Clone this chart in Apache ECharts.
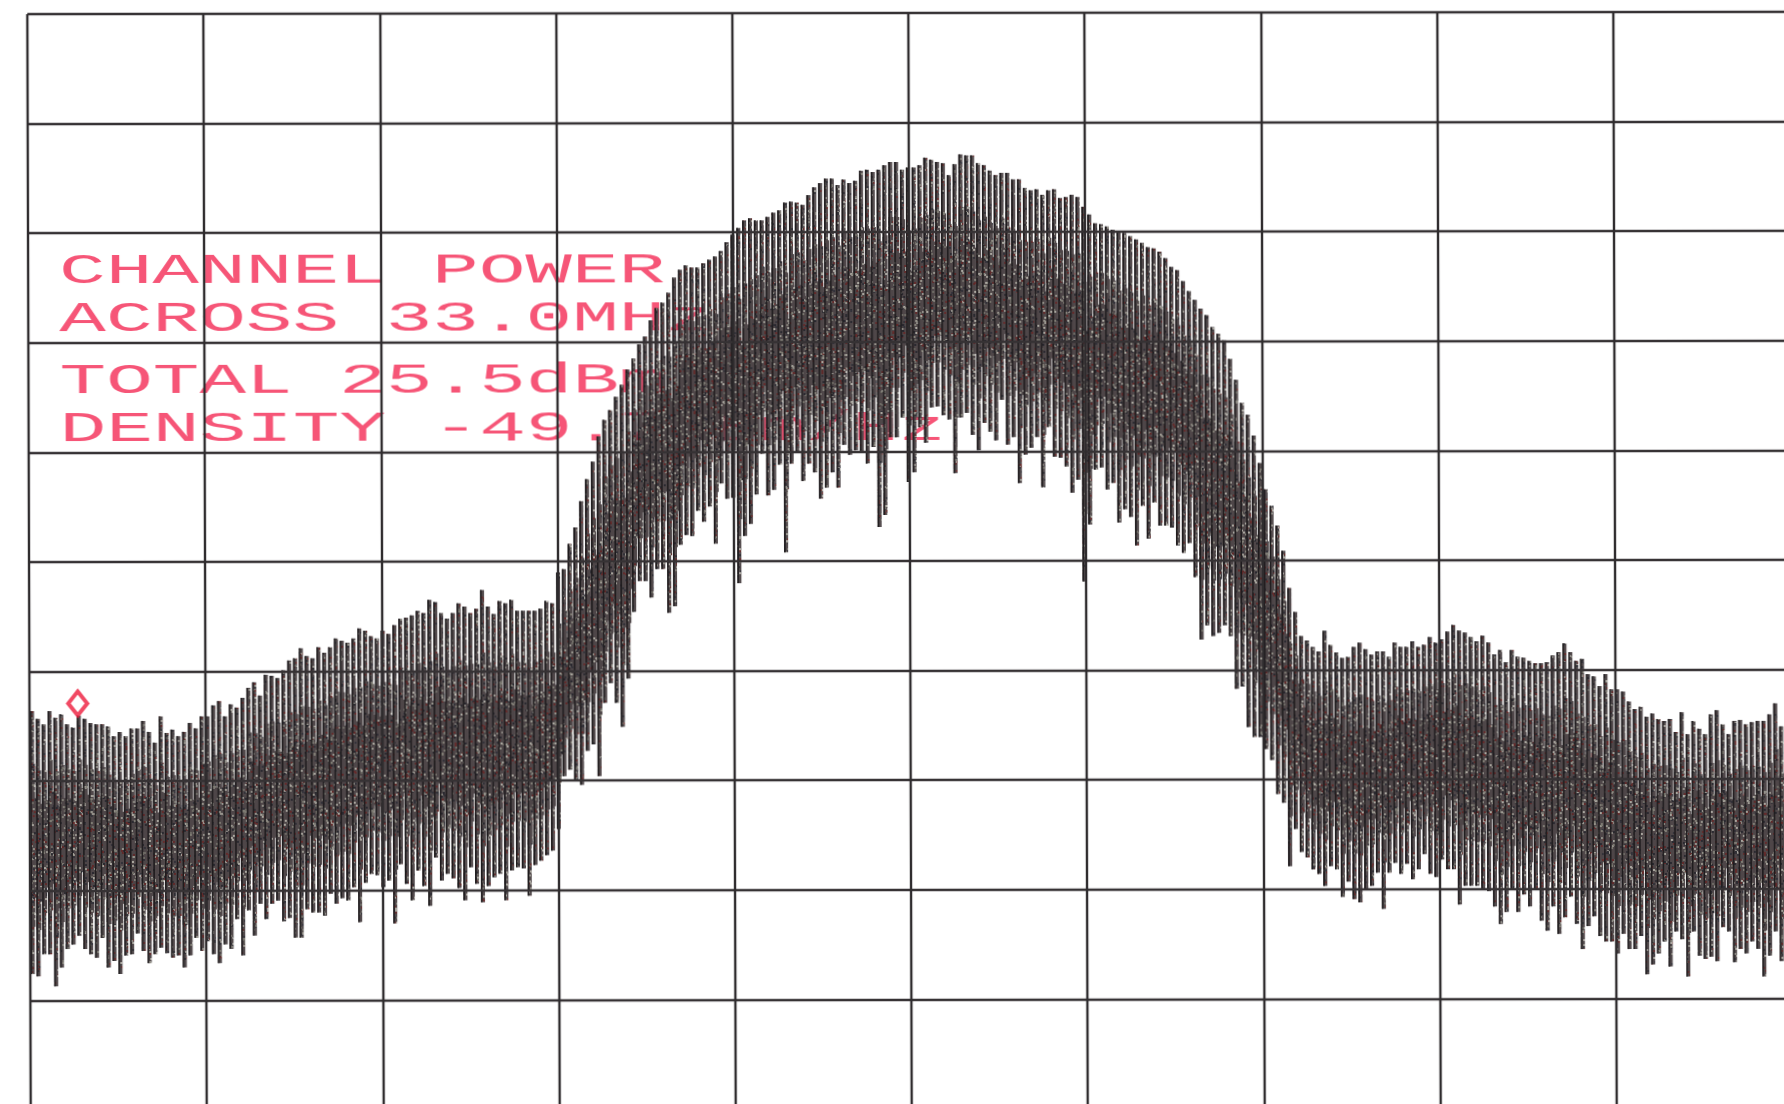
<!DOCTYPE html>
<html>
<head>
<meta charset="utf-8">
<title>Channel power spectrum</title>
<script src="https://cdn.jsdelivr.net/npm/echarts@6/dist/echarts.min.js"></script>
<style>
html,body{margin:0;padding:0;background:#fff;width:1784px;height:1104px;overflow:hidden}
#chart{position:absolute;left:-10px;top:-10px;width:1804px;height:1124px;
  transform:matrix(1,-0.0013,0.0031,1,0,0);filter:blur(0.7px)}
</style>
</head>
<body>
<div id="chart"></div>
<script>
// Level at the top of each spectrum spike, dB below the top graticule line
const spikeTop = [
63.6,64.3,64.8,63.6,64.2,63.9,64.8,65.1,64.0,64.3,64.7,64.8,64.8,65.0,65.9,65.5,65.9,65.2,65.2,64.5,
65.5,66.5,64.1,65.6,65.3,65.9,65.5,64.7,65.2,64.1,64.1,63.1,62.7,64.1,63.0,63.3,62.4,61.5,61.0,62.2,
60.3,60.4,60.6,59.9,59.0,58.8,57.9,
58.6,58.8,57.8,58.3,57.8,57.0,57.2,57.4,57.0,56.1,56.3,56.8,57.0,56.3,56.6,55.8,55.2,55.1,54.9,54.5,
54.7,53.5,53.7,54.7,55.2,54.7,53.8,54.1,54.7,54.3,52.6,54.1,54.8,53.6,53.8,53.5,54.5,54.5,54.5,54.5,
54.3,53.6,53.8,
51.0,50.7,48.4,46.9,44.5,42.5,40.9,38.6,37.1,36.2,35.0,33.9,32.5,31.5,30.2,29.5,28.0,26.9,26.4,25.5,
24.1,23.4,23.0,23.2,23.2,22.8,22.5,22.2,21.7,20.9,
20.2,19.6,18.9,18.7,18.9,18.9,18.6,18.2,18.0,17.3,17.2,17.3,
17.5,16.6,15.9,15.5,15.1,15.1,15.7,15.2,15.5,15.3,14.4,14.3,14.5,14.3,13.9,13.6,13.6,14.3,14.1,14.1,
13.9,13.2,13.4,13.6,13.7,14.8,13.8,12.9,13.0,13.0,13.7,13.9,14.4,14.8,14.6,14.6,15.2,15.2,16.0,16.2,
16.1,16.6,16.2,16.1,16.9,16.8,16.6,16.8,17.7,18.4,19.2,
19.3,19.5,19.8,20.0,20.1,20.4,20.7,21.0,21.4,21.5,21.8,22.4,23.2,23.5,24.5,25.4,26.2,27.0,27.6,28.7,
29.3,29.9,31.6,33.5,35.6,36.7,38.6,41.1,43.5,45.0,46.8,49.1,52.5,54.7,56.9,57.3,57.9,58.3,56.4,57.7,
58.4,58.9,
58.8,57.9,57.5,58.1,58.6,58.3,58.3,58.8,57.5,57.9,57.9,57.4,57.9,57.7,57.0,57.5,57.2,56.5,55.9,56.4,
56.6,57.0,57.4,56.9,57.5,58.6,58.2,59.3,58.2,58.8,58.9,59.2,59.4,
59.4,59.3,58.7,58.4,57.6,58.4,59.2,59.0,60.4,60.6,61.5,60.4,61.8,61.8,62.0,62.9,63.6,63.4,64.3,64.0,
64.5,64.7,64.5,65.7,63.9,65.9,64.7,65.4,65.9,64.1,63.7,65.0,65.9,64.7,64.6,65.0,64.8,64.7,64.7,64.1,
63.1,65.2,65.0
];
// Level at the bottom of each spectrum spike, dB below the top graticule line
const spikeBottom = [
87.6,87.8,85.8,85.8,88.7,87.0,85.3,84.9,84.1,85.3,85.8,86.1,84.3,87.0,86.4,87.6,85.9,85.8,83.9,85.5,
86.6,85.8,85.2,85.7,86.1,85.9,87.0,85.9,84.3,85.5,84.6,85.8,86.6,84.9,85.3,82.6,85.9,81.8,84.1,81.2,
82.6,81.2,80.9,82.8,82.5,84.3,
84.3,81.7,82.0,82.0,82.3,80.3,81.2,80.7,80.9,79.7,82.9,79.3,78.5,78.6,79.7,79.1,83.0,77.6,79.4,80.9,
78.2,79.6,81.4,77.0,79.1,78.5,78.9,79.8,80.9,77.9,79.4,81.1,79.6,78.8,78.5,80.9,78.2,77.9,78.0,80.5,
77.7,77.3,76.8,76.4,
74.4,
69.6,69.0,69.9,70.4,67.3,66.7,69.6,62.9,61.1,62.9,65.1,60.7,54.6,51.8,51.8,53.3,50.7,50.7,54.7,54.1,
48.5,47.6,47.7,45.4,46.4,45.0,48.4,42.9,44.3,44.2,52.0,47.7,46.6,43.9,40.2,44.0,43.5,41.2,49.2,41.1,
40.0,42.7,41.1,41.9,44.3,43.3,41.9,43.3,
39.4,40.3,39.9,40.1,41.1,39.6,46.9,45.8,38.7,38.7,36.9,42.8,41.9,37.8,39.2,36.0,35.9,36.7,37.1,42.0,
36.9,36.5,38.5,39.9,37.4,38.2,39.0,35.3,39.4,38.7,42.9,40.3,39.7,38.7,43.3,37.8,40.5,40.6,41.4,43.8,
42.6,51.9,46.7,41.7,41.5,43.5,42.9,46.5,45.3,
46.0,48.6,45.0,48.0,44.7,46.8,46.8,47.0,48.6,49.3,48.4,51.5,57.2,55.9,56.9,56.6,55.9,56.9,61.7,61.5,
65.2,66.1,66.1,67.2,68.2,71.3,72.1,77.9,
74.5,76.6,77.1,78.2,78.6,79.7,77.9,78.2,80.7,79.3,80.9,81.2,80.0,79.7,78.5,81.8,78.5,77.6,78.6,77.7,
79.1,78.2,76.8,78.6,78.9,77.3,78.2,78.2,81.4,79.7,79.7,79.7,80.0,80.2,81.6,83.2,82.1,80.0,82.1,80.5,
81.6,80.0,
82.9,83.8,81.6,84.1,82.6,80.7,83.2,85.5,83.4,82.5,84.3,84.8,84.8,85.9,84.1,85.5,85.5,84.3,87.8,86.9,
85.9,84.8,87.1,83.9,84.6,88.0,83.9,86.1,86.4,86.2,86.6,83.5,83.9,86.7,85.5,85.9,84.8,85.5,88.0,86.1,
83.9,86.6,85.5
];
// Marker: spike number and level
const markerPoint = [8.25, 62.9];
// Annotation text printed by the analyser
const annotationLines = ['CHANNEL POWER', 'ACROSS 33.0MHz', 'TOTAL 25.5dBm', 'DENSITY -49.7dBm/Hz'];

const annotationY = [281, 329, 391, 439];

// Printed-ink texture (a fixed tile, it carries no data)
function makeTile(base, speck) {
  const size = 128, c = document.createElement('canvas');
  c.width = c.height = size;
  const g = c.getContext('2d');
  g.fillStyle = base; g.fillRect(0, 0, size, size);
  const inks = ['#a9a69f', '#7f7c74', '#632c2c', '#2b2a30', '#94918a', '#5e2a2a', '#33323a', '#6e6b64'];
  let s = 12345;
  for (let n = 0; n < speck; n++) {
    s = (s * 1103515 + 12345) & 0x7fffffff; const x = (s >> 8) % size;
    s = (s * 1103515 + 12345) & 0x7fffffff; const y = (s >> 8) % size;
    s = (s * 1103515 + 12345) & 0x7fffffff; g.fillStyle = inks[(s >> 10) % inks.length];
    g.fillRect(x, y, 2, 2);
  }
  return c;
}
const bodyFill = { image: makeTile('#4f4648', 1400), repeat: 'repeat' };

const spikeRows = spikeTop.map((t, i) => [i + 0.25, t, spikeBottom[i]]);

function renderSpike(params, api) {
  const x = api.value(0), t = api.value(1), b = api.value(2);
  const p0 = api.coord([x, t]), p1 = api.coord([x, b]);
  const h = p1[1] - p0[1];
  const pitch = api.size([1, 0])[0];
  const left = p0[0] - 1;
  return {
    type: 'group',
    silent: true,
    children: [
      { type: 'rect', shape: { x: left, y: p0[1], width: pitch - 1.8, height: h }, style: { fill: bodyFill, opacity: 0.96 } },
      { type: 'rect', shape: { x: left, y: p0[1] + h * 0.2, width: pitch - 0.8, height: h * 0.62 }, style: { fill: bodyFill, opacity: 0.96 } },
      { type: 'rect', shape: { x: left, y: p0[1] + h * 0.33, width: pitch + 0.2, height: h * 0.38 }, style: { fill: bodyFill, opacity: 0.96 } },
      { type: 'rect', shape: { x: left, y: p0[1], width: 1.6, height: h }, style: { fill: '#1e1b1d' } }
    ]
  };
}

const inkRed = '#f65577';
const chart = echarts.init(document.getElementById('chart'), null, { renderer: 'canvas' });
chart.setOption({
  animation: false,
  backgroundColor: '#fff',
  grid: { left: 39, top: 23, width: 1762, height: 1096, containLabel: false },
  xAxis: {
    type: 'value', min: 0, max: 301.2, interval: 30.12, z: 4,
    axisLine: { show: false }, axisTick: { show: false }, axisLabel: { show: false },
    splitLine: { show: true, lineStyle: { color: '#2f2c2e', width: 2.4 } }
  },
  yAxis: {
    type: 'value', inverse: true, min: 0, max: 100, interval: 10, z: 4,
    axisLine: { show: false }, axisTick: { show: false }, axisLabel: { show: false },
    splitLine: { show: true, lineStyle: { color: '#363234', width: 2.4 } }
  },
  series: [
    {
      type: 'custom', z: 2, silent: true, clip: false,
      data: spikeRows, encode: { x: 0, y: [1, 2] },
      renderItem: renderSpike
    },
    {
      type: 'scatter', z: 5, silent: true,
      data: [markerPoint], symbol: 'diamond', symbolSize: [19, 24],
      itemStyle: { color: 'rgba(255,255,255,0)', borderColor: '#ee1c3c', borderWidth: 4 }
    }
  ],
  graphic: annotationLines.map((line, k) => ({
    type: 'text', z: 0, x: 70, y: annotationY[k], scaleX: 1.85, silent: true,
    style: {
      text: line, fill: inkRed, stroke: '#ffffff', lineWidth: 1.3,
      font: '42px "Liberation Mono"', textVerticalAlign: 'middle', textAlign: 'left'
    }
  })).concat([{
    type: 'text', z: 0, x: 11, y: 605, silent: true,
    style: { text: 'd', fill: '#f2365c', font: 'bold 36px "Liberation Mono"', textVerticalAlign: 'middle', textAlign: 'right' }
  }])
});
</script>
</body>
</html>
